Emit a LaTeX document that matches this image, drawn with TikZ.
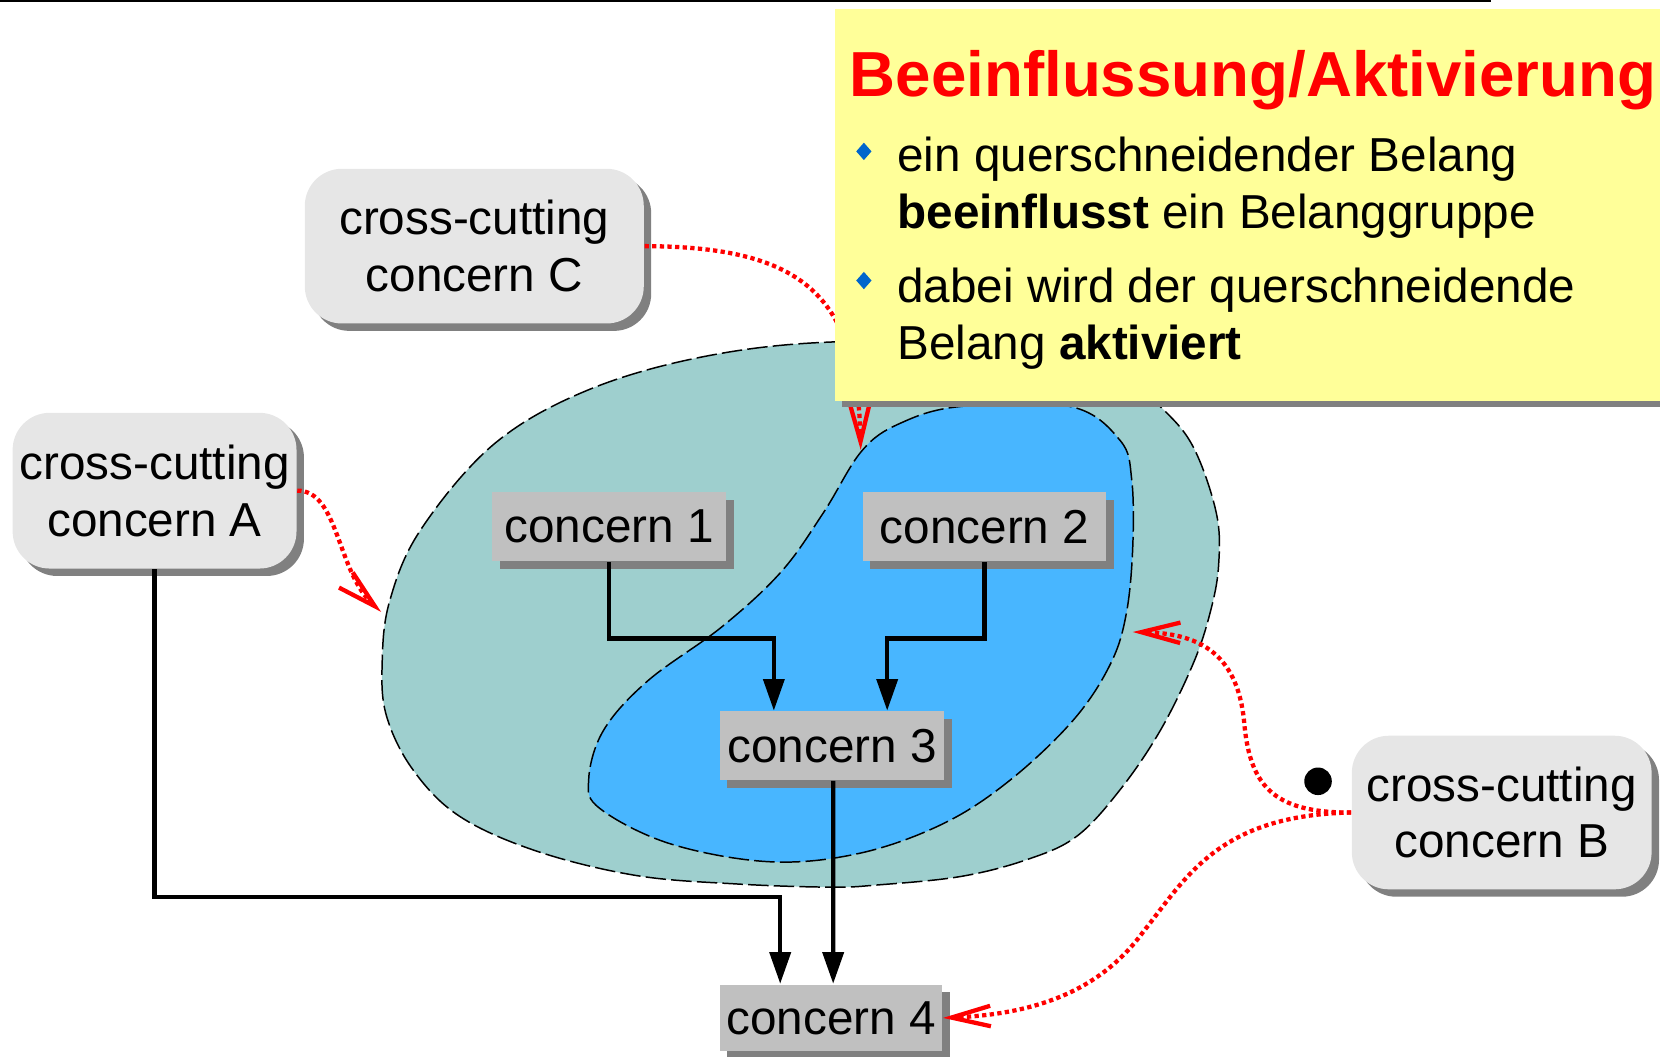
\documentclass[tikz,border=0pt]{standalone}
\usepackage{fontspec}
\setmainfont{Liberation Sans}
\usetikzlibrary{arrows.meta,shapes.geometric,shadows}
\definecolor{outerteal}{RGB}{158,207,206}
\definecolor{innerblue}{RGB}{72,182,255}
\definecolor{noteyellow}{RGB}{255,255,153}
\definecolor{boxgray}{RGB}{192,192,192}
\definecolor{ccgray}{RGB}{230,230,230}
\definecolor{shadowgray}{RGB}{128,128,128}
\definecolor{bulletblue}{RGB}{0,102,204}

\begin{document}
\begin{tikzpicture}[x=0.01cm,y=-0.01cm,
  txt/.style={font=\fontsize{12.8pt}{15.2pt}\selectfont},
  boxshadow/.style={drop shadow={shadow xshift=0.07cm,shadow yshift=-0.07cm,fill=shadowgray,opacity=1}},
  concernbox/.style={txt,rectangle,fill=boxgray,inner sep=0pt,minimum height=0.65cm,boxshadow},
  ccbox/.style={txt,rectangle,rounded corners=0.35cm,fill=ccgray,align=center,inner sep=0pt,minimum height=1.46cm,boxshadow},
  conn/.style={line width=1.15pt,-{Triangle[length=8.5pt,width=5.6pt]}},
  influence/.style={red,line width=1.15pt,dash pattern=on 1.15pt off 0.9pt,-{Straight Barb[length=10.5pt,width=5.5pt]}},
  blob/.style={draw=black,line width=0.4pt,dash pattern=on 5.5pt off 1.4pt},
  notetext/.style={txt,anchor=base west,inner sep=0pt},
  bullet/.style={diamond,fill=bulletblue,inner sep=0pt,minimum width=0.15cm,minimum height=0.17cm}
]
\useasboundingbox (0,0) rectangle (1568,998);

% concern group and its activated subgroup
\path[blob,fill=outerteal] plot[smooth cycle,tension=0.6] coordinates {
  (787,323) (950,326) (1050,345) (1096,384) (1127,422) (1149,485) (1151,535)
  (1143,579) (1127,627) (1096,690) (1058,746) (1017,790) (970,812) (907,828)
  (828,836) (784,838) (696,835) (601,827) (507,804) (434,771) (390,727)
  (365,676) (361,626) (368,568) (397,501) (466,420) (554,369) (664,337)};
\path[blob,fill=innerblue] plot[smooth cycle,tension=0.6] coordinates {
  (814,426) (850,400) (907,384) (1011,384) (1058,416) (1069,453) (1070,516)
  (1064,579) (1049,627) (1014,680) (954,737) (891,778) (812,806) (727,814)
  (633,797) (567,764) (556,737) (570,690) (612,643) (682,592) (738,540)
  (778,484)};

% helper points
\coordinate (tipC) at (813,425);
\coordinate (tipA) at (360,578);
\coordinate (tipB) at (1070,597);
\coordinate (rowTop) at (0,603);
\coordinate (rowA) at (0,847);

% cross-cutting concerns
\node[ccbox,minimum width=3.2cm] (ccC) at (448,232.5) {cross-cutting\\concern C};
\node[ccbox,minimum width=2.68cm,minimum height=1.47cm] (ccA) at (146,463.5) {cross-cutting\\concern A};
\node[ccbox,minimum width=2.83cm,minimum height=1.45cm] (ccB) at (1418.5,767.5) {cross-cutting\\concern B};

% concerns
\node[concernbox,minimum width=2.21cm] (c1) at (575.5,497.5) {concern 1};
\node[concernbox,minimum width=2.30cm] (c2) at (930,497.5) {concern 2};
\node[concernbox,minimum width=2.12cm] (c3) at (786,704.5) {concern 3};
\node[concernbox,minimum width=2.10cm,minimum height=0.63cm] (c4) at (785,961.5) {concern 4};

% influence of the cross-cutting concerns
\draw[influence] (ccC.east) .. controls (760,233) and (810,280) .. (tipC);
\draw[influence] (ccA.east) .. controls (320,463) and (318,540) .. (tipA);
\draw[influence] (ccB.west) .. controls (1200,768) and (1180,740) .. (1175,680)
  .. controls (1168,615) and (1130,598) .. (tipB);
\draw[influence] (ccB.west) .. controls (1150,770) and (1120,830) .. (1080,880)
  .. controls (1040,935) and (980,958) .. (c4.east);

% dependencies
\draw[conn] (c1.south) -- (c1.south |- rowTop) -| ([xshift=-0.55cm]c3.north);
\draw[conn] (c2.south) -- (c2.south |- rowTop) -| ([xshift=0.52cm]c3.north);
\draw[conn] ([xshift=0.01cm]c3.south) -- ([xshift=0.02cm]c4.north);
\draw[conn] (ccA.south) -- (ccA.south |- rowA) -| ([xshift=-0.48cm]c4.north);

% note
\node[rectangle,fill=noteyellow,inner sep=0pt,anchor=north west,minimum width=8.2cm,minimum height=3.7cm,
  drop shadow={shadow xshift=0.07cm,shadow yshift=-0.06cm,fill=shadowgray,opacity=1}] (note) at (788,8) {};
\node[anchor=base west,inner sep=0pt,text=red,font=\fontsize{17.1pt}{20pt}\selectfont\bfseries] (title) at (802,91) {Beeinflussung/Aktivierung};
\node[bullet] (b1) at (816,143) {};
\node[notetext] (t1a) at (847,162) {ein querschneidender Belang};
\node[notetext] (t1b) at (847,216) {\textbf{beeinflusst} ein Belanggruppe};
\node[bullet] (b2) at (816,265) {};
\node[notetext] (t2a) at (847,286) {dabei wird der querschneidende};
\node[notetext] (t2b) at (847,340) {Belang \textbf{aktiviert}};

\fill (1245,738) circle[radius=0.13cm];
\draw[line width=0.55pt] (0,1) -- (1408,1);
\end{tikzpicture}
\end{document}
